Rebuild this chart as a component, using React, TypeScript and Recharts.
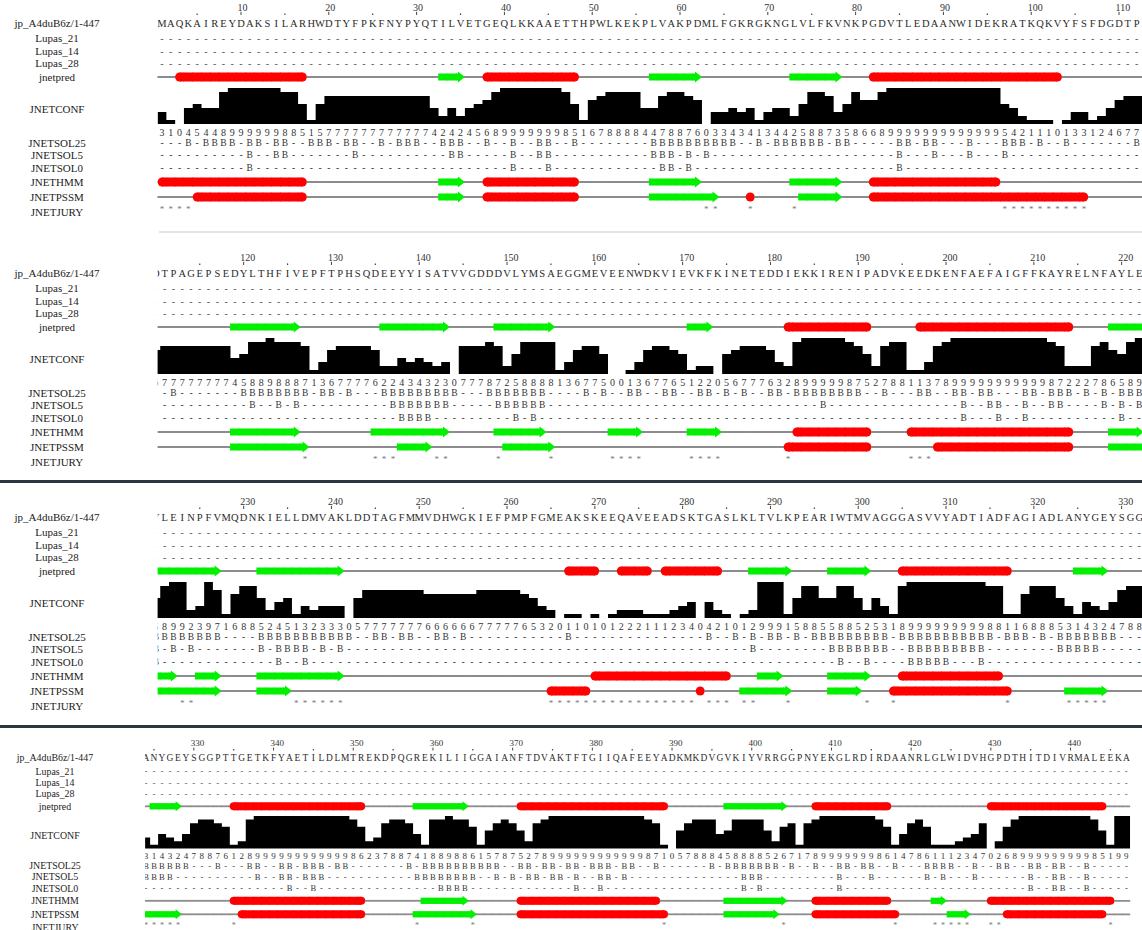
import React from 'react'
import { ComposedChart, AreaChart, Area, Scatter, XAxis, YAxis } from 'recharts'

type Seg = [number, number]

// jp_A4duB6z/1-447, ten residues per entry
const SEQUENCE = [
  'MAQKAIREYD', 'AKSILARHWD', 'TYFPKFNYPY', 'QTILVETGEQ', 'LKKAAETTHP', 'WLKEKPLVAK', 'PDMLFGKRGK', 'NGLVLFKVNK',
  'PGDVTLEDAA', 'NWIDEKRATK', 'QKVYFSFDGD', 'TPAGEPSEDY', 'LTHFIVEPFT', 'PHSQDEEYYI', 'SATVVGDDDV', 'LYMSAEGGME',
  'VEENWDKVIE', 'VKFKINETED', 'DIEKKIRENI', 'PADVKEEDKE', 'NFAEFAIGFF', 'KAYRELNFAY', 'LEINPFVMQD', 'NKIELLDMVA',
  'KLDDTAGFMM', 'VDHWGKIEFP', 'MPFGMEAKSK', 'EEQAVEEADS', 'KTGASLKLTV', 'LKPEARIWTM', 'VAGGGASVVY', 'ADTIADFAGI',
  'ADLANYGEYS', 'GGPTTGETKF', 'YAETILDLMT', 'REKDPQGREK', 'ILIIGGAIAN', 'FTDVAKTFTG', 'IIQAFEEYAD', 'KMKDVGVKIY',
  'VRRGGPNYEK', 'GLRDIRDAAN', 'RLGLWIDVHG', 'PDTHITDIVR', 'MALEEKA',
].join('')

// JNETCONF, one digit per residue
const CONFIDENCE = [
  '3104544899', '9999885157', '7777777777', '7424245689', '9999998516', '7888844788', '7603343413', '4425887358',
  '6689999999', '9999995421', '1101331246', '7777777745', '8898887136', '7777622434', '3230777872', '5888813677',
  '5001367765', '1220567776', '3289999987', '5278811378', '9999999999', '9872227865', '8992397168', '8524513233',
  '3057777777', '6666667777', '7653201101', '0122211123', '4042101299', '9158855885', '2531899999', '9999881168',
  '8853143247', '8876128999', '9999999998', '6237887418', '8988615787', '5278999999', '9999998710', '5788845888',
  '8526717899', '9999986147', '8611123470', '2689999999', '9985199',
].join('')

const JNETPRED_HELIX: Seg[] = [[3, 17], [38, 48], [82, 103], [182, 191], [197, 214], [267, 270], [273, 276], [278, 284], [305, 317], [335, 351], [371, 389], [408, 417], [430, 444]]
const JNETPRED_STRAND: Seg[] = [[33, 35], [57, 62], [73, 78], [119, 126], [136, 143], [149, 155], [171, 173], [219, 227], [232, 241], [288, 292], [297, 301], [325, 328], [358, 364], [397, 404]]

const HMM_HELIX: Seg[] = [[1, 17], [38, 48], [82, 96], [183, 191], [196, 214], [270, 285], [305, 316], [335, 351], [371, 388], [408, 417], [430, 445]]
const HMM_STRAND: Seg[] = [[33, 35], [57, 62], [73, 78], [119, 126], [135, 143], [149, 154], [162, 165], [171, 174], [219, 222], [225, 227], [232, 241], [289, 291], [297, 301], [359, 364], [397, 404], [423, 424]]

const PSSM_HELIX: Seg[] = [[5, 17], [38, 48], [68, 68], [82, 106], [182, 191], [199, 214], [265, 269], [282, 282], [304, 317], [336, 351], [371, 389], [408, 418], [432, 444]]
const PSSM_STRAND: Seg[] = [[33, 35], [57, 64], [74, 78], [119, 127], [138, 141], [150, 155], [219, 227], [232, 235], [287, 292], [297, 300], [324, 328], [358, 365], [397, 403], [425, 427]]

const JURY: Seg[] = [[1, 4], [63, 64], [68, 68], [73, 73], [97, 106], [127, 127], [135, 137], [142, 143], [149, 149], [155, 155], [162, 165], [171, 174], [182, 182], [196, 198], [223, 224], [236, 241], [265, 281], [283, 285], [287, 288], [292, 292], [301, 301], [304, 304], [317, 317], [324, 328], [335, 335], [358, 358], [365, 365], [389, 389], [404, 404], [418, 418], [423, 427], [430, 431], [445, 445]]

const SOL25: Seg[] = [[4, 4], [6, 9], [11, 12], [14, 15], [18, 20], [22, 23], [26, 26], [28, 30], [33, 35], [38, 38], [41, 41], [44, 45], [48, 48], [57, 66], [69, 69], [71, 76], [78, 79], [85, 86], [88, 89], [93, 93], [97, 99], [101, 101], [104, 104], [112, 112],
  [120, 127], [129, 130], [132, 132], [136, 144], [148, 154], [159, 159], [161, 161], [164, 165], [168, 169], [172, 173], [175, 175], [177, 177], [180, 181], [183, 190], [193, 193], [197, 198], [201, 202], [204, 205], [209, 210], [212, 214], [216, 216], [218, 218], [220, 227],
  [232, 242], [245, 246], [248, 249], [252, 253], [255, 255], [267, 267], [283, 283], [286, 286], [288, 288], [290, 291], [293, 293], [295, 303], [305, 315], [317, 319], [321, 321], [323, 329],
  [333, 333], [337, 338], [341, 342], [344, 346], [348, 349], [357, 357], [359, 368], [371, 372], [374, 375], [377, 378], [380, 382], [384, 385], [388, 388], [395, 395], [397, 403], [405, 405], [408, 408], [411, 412], [414, 415], [418, 418], [422, 425], [428, 428], [431, 432], [435, 436], [438, 439], [442, 442]]

const SOL5: Seg[] = [[11, 11], [14, 15], [23, 23], [34, 35], [41, 41], [44, 45], [57, 59], [61, 61], [63, 63], [85, 85], [89, 89], [93, 93], [97, 97], [121, 121], [124, 124], [126, 126], [137, 143], [149, 154], [186, 186], [202, 202], [205, 206], [209, 209], [212, 213], [218, 218], [220, 220], [222, 222], [224, 224], [232, 232], [234, 237], [239, 239], [241, 241], [288, 288], [297, 303], [306, 314], [323, 327], [338, 338], [341, 342], [344, 346], [358, 365], [368, 368], [370, 370], [372, 373], [375, 376], [378, 378], [381, 382], [384, 384], [399, 401], [411, 411], [415, 415], [422, 422], [424, 424], [428, 428], [435, 435], [438, 439], [442, 442]]

const SOL0: Seg[] = [[11, 11], [41, 41], [45, 45], [58, 59], [61, 61], [85, 85], [138, 141], [151, 151], [153, 153], [202, 202], [206, 206], [209, 209], [220, 220], [234, 234], [237, 237], [298, 298], [301, 301], [306, 310], [314, 314], [342, 342], [345, 345], [361, 364], [378, 378], [381, 381], [399, 399], [401, 401], [411, 411], [435, 435], [438, 439], [442, 442]]

const LABELS: [string, number][] = [
  ['jp_A4duB6z/1-447', 23], ['Lupas_21', 38], ['Lupas_14', 51], ['Lupas_28', 63], ['jnetpred', 77], ['JNETCONF', 109],
  ['JNETSOL25', 143], ['JNETSOL5', 155], ['JNETSOL0', 168], ['JNETHMM', 182], ['JNETPSSM', 197], ['JNETJURY', 212],
]

// layout of a wrapped block, in px from its top (first block scale)
const ROW = { seq: 23, l21: 38, l14: 51, l28: 63, pred: 77, confTop: 88, confH: 36, digits: 132, sol25: 143, sol5: 155, sol0: 168, hmm: 182, pssm: 197, jury: 209 }

const PANELS = [
  { top: 0, lo: 0.5, left: 157.6, right: 1142, px: 8.78, k: 1, h: 228, labelX: 57 },
  { top: 250, lo: 110.2, left: 157.6, right: 1142, px: 8.78, k: 1, h: 228, labelX: 57 },
  { top: 494, lo: 220.2, left: 157.6, right: 1142, px: 8.78, k: 1, h: 228, labelX: 57 },
  { top: 737, lo: 323.87, left: 145, right: 1130.3, px: 7.97, k: 0.9, h: 193, labelX: 55 },
]

const RED = '#ff0000'
const GREEN = '#00f000'
const SERIF = "'Liberation Serif', 'DejaVu Serif', serif"

const inSegs = (segs: Seg[], r: number) => segs.some(([a, b]) => r >= a && r <= b)

function trackCells(helix: Seg[], strand: Seg[], rs: number[], v: number) {
  return rs.map(r => {
    const h = helix.find(([a, b]) => r >= a && r <= b)
    const e = strand.find(([a, b]) => r >= a && r <= b)
    const seg = h || e
    return { r, v, ss: h ? 'H' : e ? 'E' : '-', first: seg ? r === seg[0] : false, last: seg ? r === seg[1] : false }
  })
}

const textShape = (size: number, fill: string) => (p: any) => (
  <text x={p.cx} y={p.cy} textAnchor="middle" dominantBaseline="central" fontSize={size} fill={fill} fontFamily={SERIF}>
    {p.payload.ch}
  </text>
)

const ssShape = (w: number, k: number) => (p: any) => {
  const { cx, cy, payload } = p
  const x0 = cx - w / 2
  const x1 = cx + w / 2
  const grey = <line x1={x0 - 0.3} x2={x1 + 0.3} y1={cy} y2={cy} stroke="#8c8c8c" strokeWidth={2 * k} />
  if (payload.ss === '-') return <g>{grey}</g>
  if (payload.ss === 'H') {
    const rr = 4.5 * k
    if (payload.first && payload.last) return <g>{grey}<circle cx={cx} cy={cy} r={rr} fill={RED} /></g>
    const l = payload.first ? x0 + rr : x0 - 0.4
    const r = payload.last ? x1 - rr : x1 + 0.4
    return (
      <g>
        {(payload.first || payload.last) && grey}
        <rect x={l} y={cy - rr} width={r - l} height={2 * rr} fill={RED} />
        {payload.first && <circle cx={x0 + rr} cy={cy} r={rr} fill={RED} />}
        {payload.last && <circle cx={x1 - rr} cy={cy} r={rr} fill={RED} />}
      </g>
    )
  }
  const bh = 7 * k
  if (!payload.last) return <rect x={x0 - 0.4} y={cy - bh / 2} width={w + 0.8} height={bh} fill={GREEN} />
  const head = 7 * k
  const hh = 5.5 * k
  return (
    <g>
      {grey}
      <rect x={x0 - 0.4} y={cy - bh / 2} width={w - head + 1.4} height={bh} fill={GREEN} />
      <polygon points={`${x1 - head},${cy - hh} ${x1},${cy} ${x1 - head},${cy + hh}`} fill={GREEN} />
    </g>
  )
}

const rulerTick = (k: number) => (p: any) => {
  const v = p.payload.value
  if (v % 10 === 0) {
    return (
      <g>
        <text x={p.x - 3.5 * k} y={10.5 * k} fontSize={10 * k} fill="#333" fontFamily={SERIF}>{v}</text>
        <line x1={p.x} x2={p.x} y1={11.8 * k} y2={15 * k} stroke="#444" strokeWidth={1} />
      </g>
    )
  }
  return <line x1={p.x} x2={p.x} y1={13.4 * k} y2={15 * k} stroke="#444" strokeWidth={1.2} />
}

function Panel({ spec }: { spec: (typeof PANELS)[number] }) {
  const { top, lo, left, right, px, k, h, labelX } = spec
  const hi = lo + (right - left) / px
  const AX = 17 * k
  const rs: number[] = []
  for (let r = Math.ceil(lo - 0.5); r <= Math.min(447, Math.floor(hi + 0.5)); r++) rs.push(r)
  const v = (py: number) => py * k - AX
  const ticks = rs.filter(r => r % 5 === 0 && r >= lo && r <= hi)

  const seqRow = rs.map(r => ({ r, v: v(ROW.seq), ch: SEQUENCE[r - 1] }))
  const lupas = (row: number) => rs.map(r => ({ r, v: v(row), ch: '-' }))
  const digits = rs.map(r => ({ r, v: v(ROW.digits), ch: CONFIDENCE[r - 1] }))
  const sol = (segs: Seg[], row: number) => rs.map(r => ({ r, v: v(row), ch: inSegs(segs, r) ? 'B' : '-' }))
  const jury = rs.filter(r => inSegs(JURY, r)).map(r => ({ r, v: v(ROW.jury), ch: '*' }))
  // each residue's confidence held from its left cell edge; the last value closes the final cell
  const conf = rs.map(r => ({ e: r - 0.5, c: Number(CONFIDENCE[r - 1]) }))
  conf.push({ e: rs[rs.length - 1] + 0.5, c: conf[conf.length - 1].c })

  const margin = { top: 0, right: 1142 - right, bottom: 0, left }
  const seqShape = textShape(10.5 * k, '#2a2a2a')
  const dashShape = textShape(10 * k, '#555')
  const solShape = textShape(9.5 * k, '#333')
  const ss = ssShape(px, k)

  return (
    <div style={{ position: 'absolute', left: 0, top, width: 1142, height: h, overflow: 'hidden' }}>
      <svg width={150} height={h} style={{ position: 'absolute', left: 0, top: 0 }}>
        {LABELS.map(([t, y]) => (
          <text key={t} x={labelX} y={y * k} textAnchor="middle" dominantBaseline="central" fontSize={11 * k} fill="#222" fontFamily={SERIF}>
            {t}
          </text>
        ))}
      </svg>
      <div style={{ position: 'absolute', left: 0, top: ROW.confTop * k }}>
        <AreaChart width={1142} height={ROW.confH * k} data={conf} margin={margin}>
          <XAxis hide dataKey="e" type="number" domain={[lo, hi]} allowDataOverflow />
          <YAxis hide type="number" domain={[0, 9]} />
          <Area type="stepAfter" dataKey="c" stroke="none" fill="#000" fillOpacity={1} dot={false} activeDot={false} isAnimationActive={false} />
        </AreaChart>
      </div>
      <div style={{ position: 'absolute', left: 0, top: 0 }}>
        <ComposedChart width={1142} height={h} margin={margin}>
          <XAxis dataKey="r" type="number" orientation="top" domain={[lo, hi]} allowDataOverflow ticks={ticks} interval={0}
            height={AX} axisLine={false} tickLine={false} tickSize={0} tickMargin={0} tick={rulerTick(k)} />
          <YAxis hide type="number" domain={[0, h - AX]} reversed allowDataOverflow />
          <Scatter data={seqRow} dataKey="v" shape={seqShape} isAnimationActive={false} />
          <Scatter data={lupas(ROW.l21)} dataKey="v" shape={dashShape} isAnimationActive={false} />
          <Scatter data={lupas(ROW.l14)} dataKey="v" shape={dashShape} isAnimationActive={false} />
          <Scatter data={lupas(ROW.l28)} dataKey="v" shape={dashShape} isAnimationActive={false} />
          <Scatter data={trackCells(JNETPRED_HELIX, JNETPRED_STRAND, rs, v(ROW.pred))} dataKey="v" shape={ss} isAnimationActive={false} />
          <Scatter data={digits} dataKey="v" shape={textShape(10 * k, '#333')} isAnimationActive={false} />
          <Scatter data={sol(SOL25, ROW.sol25)} dataKey="v" shape={solShape} isAnimationActive={false} />
          <Scatter data={sol(SOL5, ROW.sol5)} dataKey="v" shape={solShape} isAnimationActive={false} />
          <Scatter data={sol(SOL0, ROW.sol0)} dataKey="v" shape={solShape} isAnimationActive={false} />
          <Scatter data={trackCells(HMM_HELIX, HMM_STRAND, rs, v(ROW.hmm))} dataKey="v" shape={ss} isAnimationActive={false} />
          <Scatter data={trackCells(PSSM_HELIX, PSSM_STRAND, rs, v(ROW.pssm))} dataKey="v" shape={ss} isAnimationActive={false} />
          <Scatter data={jury} dataKey="v" shape={textShape(9 * k, '#777')} isAnimationActive={false} />
        </ComposedChart>
      </div>
    </div>
  )
}

export default function App() {
  return (
    <div style={{ position: 'absolute', left: 0, top: 0, width: 1142, height: 930, overflow: 'hidden', background: '#fff' }}>
      {PANELS.map((p, i) => <Panel key={i} spec={p} />)}
      <div style={{ position: 'absolute', left: 159, top: 231, width: 983, height: 2, background: '#e4e4e4' }} />
      <div style={{ position: 'absolute', left: 0, top: 480, width: 1142, height: 3, background: '#2e3440' }} />
      <div style={{ position: 'absolute', left: 0, top: 725, width: 1142, height: 3, background: '#2e3440' }} />
    </div>
  )
}
